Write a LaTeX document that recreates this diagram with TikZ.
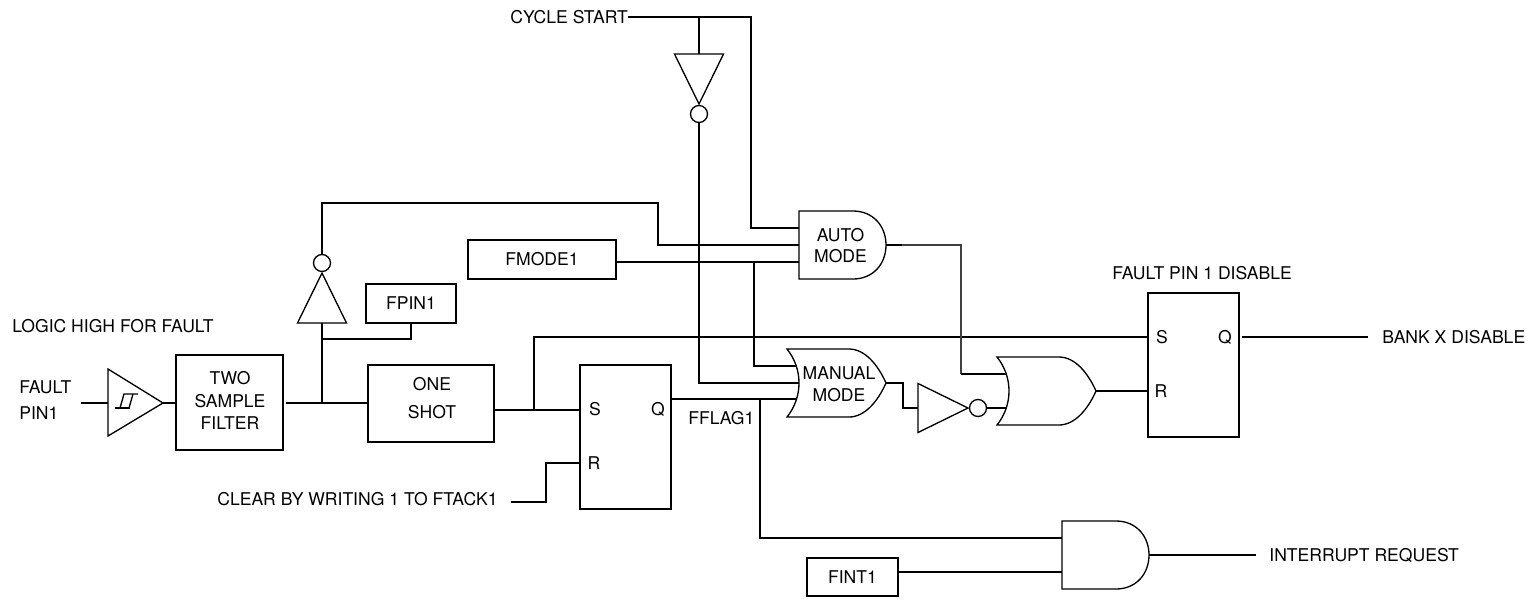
\documentclass[tikz,border=0pt]{standalone}
\usepackage{fontspec}
\setmainfont{TeX Gyre Heros}
\usetikzlibrary{calc}
\tikzset{
  wire/.style={line width=1.1pt},
  thinwire/.style={line width=0.8pt, color=black!75},
  gateline/.style={line width=0.75pt},
  blockbox/.style={draw, line width=1pt, align=center, inner sep=0pt, font=\fontsize{10}{12.7}\selectfont},
  lbl/.style={inner sep=0pt, align=left, anchor=west, font=\fontsize{10}{12.7}\selectfont},
  gatetext/.style={inner sep=0pt, align=center, font=\fontsize{10}{12.4}\selectfont},
  andgate/.pic={
    \draw[gateline] (0,-34) -- (54,-34) .. controls (74,-34) and (87,-19) .. (87,0)
      .. controls (87,19) and (74,34) .. (54,34) -- (0,34) -- cycle;
    \coordinate (-in1) at (0,-17);
    \coordinate (-in2) at (0,0);
    \coordinate (-in3) at (0,17);
    \coordinate (-out) at (87,0);
  },
  orgate/.pic={
    \draw[gateline] (0,-34) -- (62,-34) .. controls (78,-34) and (91,-18) .. (99,0)
      .. controls (91,18) and (78,34) .. (62,34) -- (0,34)
      .. controls (8,24) and (12,12) .. (12,0) .. controls (12,-12) and (8,-24) .. (0,-34) -- cycle;
    \coordinate (-in1) at (10,-17);
    \coordinate (-in2) at (12,0);
    \coordinate (-in3) at (10,16);
    \coordinate (-out) at (99,0);
  },
  invgate/.pic={
    \draw[gateline] (0,-24.5) -- (50,0) -- (0,24.5) -- cycle;
    \draw[gateline] (60,0) circle (8.5);
    \coordinate (-in) at (0,0);
    \coordinate (-out) at (68.5,0);
  },
}
\begin{document}
\begin{tikzpicture}[x=0.02cm, y=-0.02cm]
\useasboundingbox (0,0) rectangle (1530,599);

\node[lbl] (logichigh) at (12,326) {LOGIC HIGH FOR FAULT};
\node[lbl] (faultpin) at (19,387) {FAULT};
\node[lbl] (faultpinb) at (19,413) {PIN1};
\node[lbl] (cyclestart) at (510,17) {CYCLE START};
\node[lbl] (clearby) at (217,499) {CLEAR BY WRITING 1 TO FTACK1};
\node[lbl] (fflag) at (688,418) {FFLAG1};
\node[lbl] (pindisable) at (1112,273) {FAULT PIN 1 DISABLE};
\node[lbl] (bankx) at (1382,337) {BANK X DISABLE};
\node[lbl] (irq) at (1269,555) {INTERRUPT REQUEST};

\node[blockbox, minimum width=2.14cm, minimum height=1.9cm] (filter) at (229.5,402.5) {};
\node[gatetext, font=\fontsize{10}{12.75}\selectfont] (filtertxt) at (230,400.5) {TWO\\SAMPLE\\FILTER};
\node[blockbox, minimum width=2.52cm, minimum height=1.54cm] (oneshot) at (431,403.5) {};
\node[gatetext] (oneshottxt) at (432,398) {ONE\\[3.5pt]SHOT};
\node[blockbox, minimum width=1.8cm, minimum height=0.78cm] (fpin) at (411,303.5) {FPIN1};
\node[blockbox, minimum width=2.96cm, minimum height=0.78cm] (fmode) at (542,259.5) {FMODE1};
\node[blockbox, minimum width=1.82cm, minimum height=0.76cm] (fint) at (852.5,577) {FINT1};
\node[blockbox, minimum width=1.82cm, minimum height=2.88cm] (ffone) at (625.5,437) {};
\node[blockbox, minimum width=1.82cm, minimum height=2.88cm] (fftwo) at (1193.5,365) {};

\node[lbl, anchor=center] (ffoneS) at (595,409) {S};
\node[lbl, anchor=center] (ffoneQ) at (658,409) {Q};
\node[lbl, anchor=center] (ffoneR) at (594,463) {R};
\node[lbl, anchor=center] (fftwoS) at (1162,337) {S};
\node[lbl, anchor=center] (fftwoQ) at (1225,337) {Q};
\node[lbl, anchor=center] (fftwoR) at (1161,391) {R};

\coordinate (fdin) at (81,403);
\coordinate (fmbranch) at (754,262);
\coordinate (sbranch) at (534,410);
\coordinate (fpinbranch) at (322,403);
\coordinate (clearend) at (511,502);
\coordinate (bankend) at (1368,337);
\coordinate (irqend) at (1256,555);

\pic (auto) at (799,245) {andgate};
\pic (manual) at (787,383) {orgate};
\pic (comb) at (997,391) {orgate};
\pic (irqgate) at (1062,555) {andgate};
\pic[rotate=90] (invup) at (322,323) {invgate};
\pic[rotate=-90] (invdown) at (699,54) {invgate};
\pic (invmid) at (918,408) {invgate};

\coordinate (flagbranch) at (760,0 |- manual-in3);

\node[gatetext] (autotxt) at (840.5,245.5) {AUTO\\MODE};
\node[gatetext] (manualtxt) at (839,384.5) {MANUAL\\MODE};

\draw[gateline] (108,369) -- (163,403) -- (108,436) -- cycle;
\draw[gateline] (115,408) -- (130,408);
\draw[gateline] (120,408) -- (124,394) -- (138,394);
\draw[gateline] (129,408) -- (133,394);
\coordinate (schmin) at (108,403);
\coordinate (schmout) at (163,403);

\draw[wire] (fdin) -- (schmin);
\draw[wire] (schmout) -- (schmout -| filter.west);
\draw[wire, shorten <=1.1pt] (filter.east |- fpinbranch) -- (fpinbranch -| oneshot.west);
\draw[wire] (fpinbranch) -- (invup-in);
\draw[wire] (fpinbranch |- 0,339) -| (fpin.south);
\draw[wire] (invup-out) |- (658,203) |- (auto-in2);
\draw[wire] (fmode.east |- auto-in3) -- (auto-in3);
\draw[wire] (fmbranch) |- (manual-in1);
\draw[wire] (cyclestart.east) -| (auto-in1 -| 751,0) |- (auto-in1);
\draw[wire] (699,17) -- (invdown-in);
\draw[wire] (invdown-out) |- (manual-in2);
\draw[wire] (oneshot.east |- sbranch) -- (sbranch -| ffone.west);
\draw[wire] (sbranch) |- (fftwoS -| fftwo.west);
\draw[wire] (clearend) -- (546,502) |- (ffoneR -| ffone.west);
\draw[wire] (manual-in3 -| ffone.east) -- (manual-in3);
\draw[wire] (flagbranch) |- (irqgate-in1);
\draw[wire] (fint.east |- irqgate-in3) -- (irqgate-in3);
\draw[wire] (irqgate-out) -- (irqend);
\draw[wire] (manual-out) -- ++(17,0) |- (invmid-in);
\draw[wire] (invmid-out) -- (invmid-out -| comb-in3);
\draw[wire] (auto-out) -- ++(16,0) coordinate (autobend);
\draw[thinwire] (autobend) -- (961,245) -- (961,374);
\draw[wire] (961,374) -- (comb-in1);
\draw[wire] (comb-out) -- (fftwoR -| fftwo.west);
\draw[wire, shorten <=1pt] (fftwoQ -| fftwo.east) -- (bankend);
\end{tikzpicture}
\end{document}
